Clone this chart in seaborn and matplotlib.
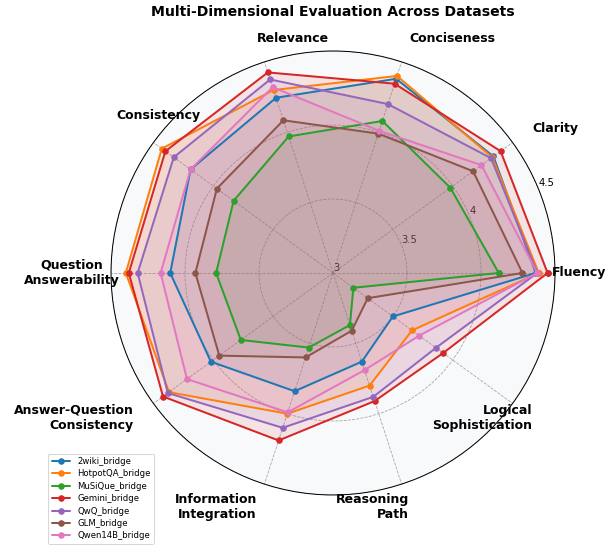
import numpy as np
import matplotlib
matplotlib.use("Agg")
import matplotlib.pyplot as plt
import seaborn as sns

# Dimensions (counter-clockwise starting from 0 degrees)
dimensoes = ["Fluency", "Clarity", "Conciseness", "Relevance", "Consistency",
             "Question\nAnswerability", "Answer-Question\nConsistency",
             "Information\nIntegration", "Reasoning\nPath", "Logical\nSophistication"]

modelos = ["2wiki_bridge", "HotpotQA_bridge", "MuSiQue_bridge", "Gemini_bridge",
           "QwQ_bridge", "GLM_bridge", "Qwen14B_bridge"]

wiki_bridge = [4.37, 4.34, 4.38, 4.245, 4.19, 4.10, 4.02, 3.84, 3.63, 3.50]
hotpotqa_bridge = [4.39, 4.33, 4.40, 4.30, 4.43, 4.40, 4.37, 4.00, 3.80, 3.66]
musique_bridge = [4.12, 3.98, 4.08, 3.97, 3.83, 3.79, 3.77, 3.53, 3.37, 3.17]
gemini_bridge = [4.45, 4.40, 4.345, 4.425, 4.40, 4.38, 4.42, 4.19, 3.91, 3.92]
qwq_bridge = [4.38, 4.32, 4.20, 4.375, 4.33, 4.32, 4.38, 4.10, 3.88, 3.86]
glm_bridge = [4.28, 4.17, 3.99, 4.085, 3.97, 3.93, 3.95, 3.60, 3.41, 3.29]
qwen14b_bridge = [4.38, 4.24, 4.01, 4.32, 4.19, 4.165, 4.22, 3.99, 3.69, 3.72]

valores = [wiki_bridge, hotpotqa_bridge, musique_bridge, gemini_bridge,
           qwq_bridge, glm_bridge, qwen14b_bridge]

raios_ticks = [3, 3.5, 4, 4.5]

sns.set_style("white")
plt.rcParams["text.color"] = "black"
plt.rcParams["xtick.color"] = "black"
plt.rcParams["ytick.color"] = "black"
cores = sns.color_palette("tab10", len(modelos))

n = len(dimensoes)
angulos = np.linspace(0, 2 * np.pi, n, endpoint=False).tolist()
angulos_fechados = angulos + angulos[:1]

fig = plt.figure(figsize=(613 / 72, 549 / 72), dpi=72)
ax = fig.add_axes([0.1811, 0.0984, 0.7243, 0.8087], polar=True)
ax.set_facecolor("#f8f9fa")

for nome, vals, cor in zip(modelos, valores, cores):
    v = vals + vals[:1]
    ax.plot(angulos_fechados, v, color=cor, linewidth=2, marker="o", markersize=5.5, label=nome)
    ax.fill(angulos_fechados, v, color=cor, alpha=0.1)

ax.set_ylim(3, 4.5)
ax.set_yticks(raios_ticks)
ax.set_yticklabels([f"{r:g}" for r in raios_ticks], fontsize=10)
ax.set_rlabel_position(22.5)

ax.set_xticks(angulos)
ax.set_xticklabels(dimensoes, fontsize=12.5, fontweight="bold")
ax.tick_params(axis="x", pad=14)

# Alinhamento dos rótulos conforme o ângulo
for label, angulo in zip(ax.get_xticklabels(), angulos):
    if angulo in (0, np.pi):
        label.set_horizontalalignment("center")
    elif 0 < angulo < np.pi:
        label.set_horizontalalignment("left")
    else:
        label.set_horizontalalignment("right")

# Alguns rótulos ficam mais afastados do círculo
ticks = ax.xaxis.get_major_ticks()
ticks[4].set_pad(35)
ticks[5].set_pad(29)

ax.grid(True, color="gray", linestyle="--", linewidth=0.8, alpha=0.7)
ax.spines["polar"].set_color("black")
ax.spines["polar"].set_linewidth(1)

fig.text(333 / 613, 1 - 12 / 549, "Multi-Dimensional Evaluation Across Datasets",
         ha="center", va="center", fontsize=14, fontweight="bold")

ax.legend(loc="lower left", bbox_to_anchor=(44 / 613, 1 / 549), bbox_transform=fig.transFigure,
          fontsize=8.5, labelspacing=0.4, handlelength=2.2, frameon=True)

fig.savefig("out.png", dpi=72)
